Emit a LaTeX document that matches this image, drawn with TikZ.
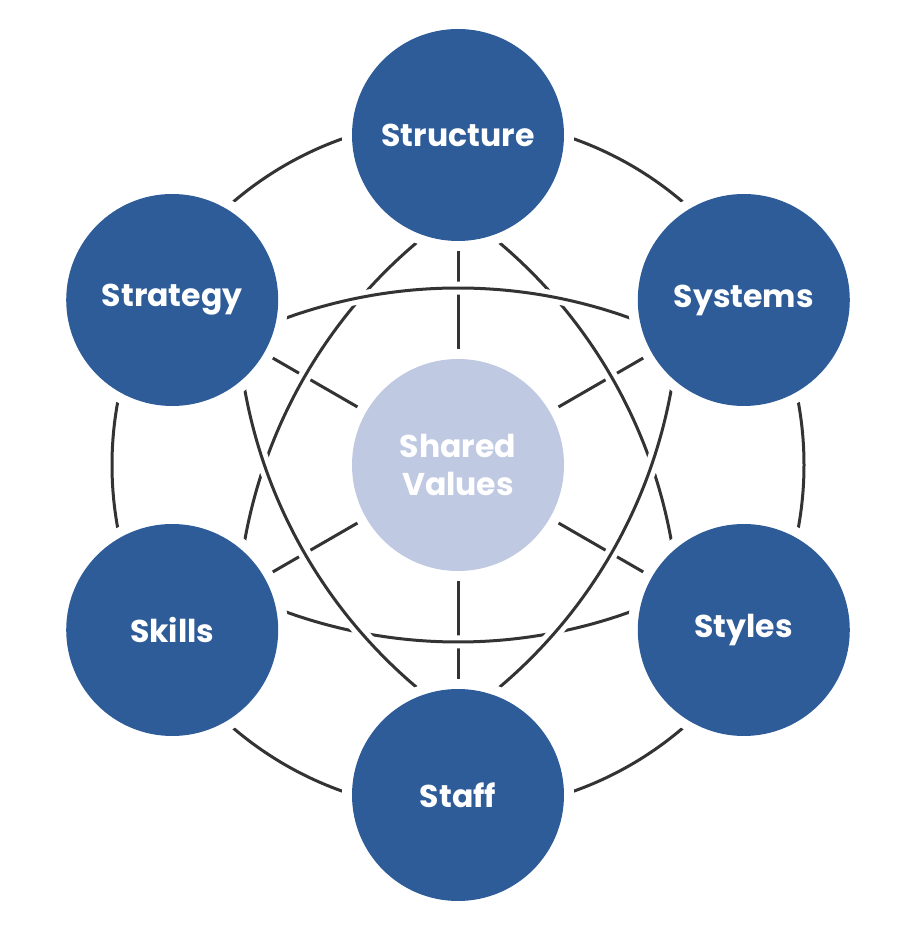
\documentclass[tikz,border=0pt]{standalone}
\usepackage{fontspec}
\setmainfont{Poppins}
\usetikzlibrary{backgrounds}
\definecolor{bluefill}{HTML}{2E5C99}
\definecolor{lightfill}{HTML}{BFC9E2}
\definecolor{linecol}{HTML}{333333}
\tikzset{
  bub/.style={circle, fill=bluefill, minimum size=212pt, inner sep=0pt, outer sep=0pt,
    preaction={draw=white, line width=20pt}, text=white,
    font=\fontsize{31.5}{36}\selectfont\bfseries},
  core/.style={bub, fill=lightfill, align=center,
    font=\fontsize{31.5}{38}\selectfont\bfseries},
  ln/.style={draw=linecol, line width=3pt, line cap=butt,
    preaction={draw=white, line width=13pt}}
}
\begin{document}
\begin{tikzpicture}[x=1pt, y=1pt]
\useasboundingbox (0,0) rectangle (914,946);
\coordinate (c) at (458,481);
\node[core] (sv) at (c) {Shared\\Values};
\node[bub] (structure) at ([shift={(90:330pt)}]c) {Structure};
\node[bub] (systems) at ([shift={(30:330pt)}]c) {Systems};
\node[bub] (styles) at ([shift={(-30:330pt)}]c) {Styles};
\node[bub] (staff) at ([shift={(-90:330pt)}]c) {Staff};
\node[bub] (skills) at ([shift={(210:330pt)}]c) {Skills};
\node[bub] (strategy) at ([shift={(150:330pt)}]c) {Strategy};
\begin{pgfonlayer}{background}
  \fill[white] (0,0) rectangle (914,946);
  % outer ring
  \draw[ln] (c) circle (346pt);
  % spokes
  \foreach \n in {structure,systems,styles,staff,skills,strategy}
    \draw[ln] (sv.center) -- (\n.center);
  % diagonal arcs
  \draw[ln] ([shift={(120:507pt)}]styles.center) arc[start angle=120, end angle=180, radius=507pt];
  \draw[ln] ([shift={(0:507pt)}]skills.center) arc[start angle=0, end angle=60, radius=507pt];
  \draw[ln] ([shift={(240:507pt)}]structure.center) arc[start angle=240, end angle=300, radius=507pt];
  \draw[ln] ([shift={(180:507pt)}]systems.center) arc[start angle=180, end angle=240, radius=507pt];
  \draw[ln] ([shift={(-60:507pt)}]strategy.center) arc[start angle=-60, end angle=0, radius=507pt];
  \draw[ln] ([shift={(60:507pt)}]staff.center) arc[start angle=60, end angle=120, radius=507pt];
\end{pgfonlayer}
\end{tikzpicture}
\end{document}
